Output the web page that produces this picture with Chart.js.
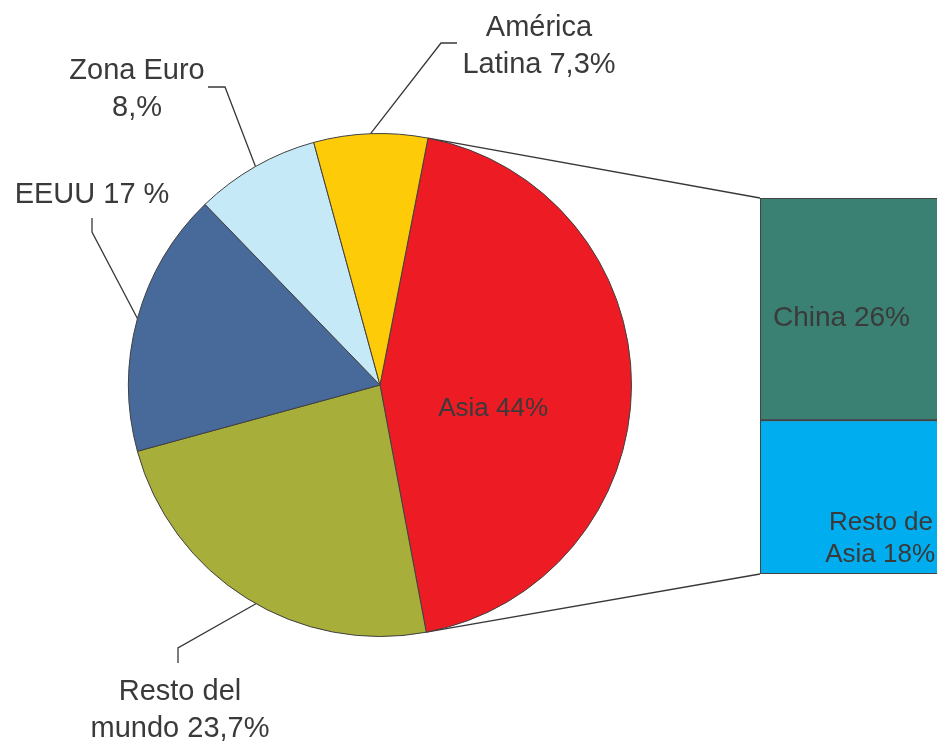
<!DOCTYPE html>
<html>
<head>
<meta charset="utf-8">
<script src="https://cdn.jsdelivr.net/npm/chart.js@4.4.1/dist/chart.umd.min.js"></script>
<style>
html, body { margin: 0; padding: 0; background: #fff; overflow: hidden; }
#wrap { position: relative; width: 937px; height: 741px; overflow: hidden; }
canvas { position: absolute; left: 0; top: 0; }
</style>
</head>
<body>
<div id="wrap">
  <canvas id="barChart" width="1000" height="741"></canvas>
  <canvas id="pieChart" width="937" height="741"></canvas>
</div>
<script>
// Pie: world shares
const categories = ['Asia', 'Resto del mundo', 'EEUU', 'Zona Euro', 'América Latina'];
const shares = [44, 23.7, 17, 8, 7.3];
const sliceLabels = [['Asia 44%'], ['Resto del', 'mundo 23,7%'], ['EEUU 17 %'], ['Zona Euro', '8,%'], ['América', 'Latina 7,3%']];
const sliceColors = ['#ed1c24', '#a8ae3a', '#476a9b', '#c6e9f8', '#fdcb07'];

// Bar: breakdown of Asia (bottom to top)
const asiaParts = ['Resto de Asia', 'China'];
const asiaShares = [18, 26];
const asiaLabels = [['Resto de', 'Asia 18%'], ['China 26%']];
const asiaColors = ['#00adef', '#3a8073'];

const textColor = '#3a3a3a';
const lineColor = '#383838';
Chart.defaults.font.family = '"Liberation Sans", Arial, sans-serif';

// where each pie label sits (leader angle shift in degrees, elbow, end, first baseline)
const labelLayout = [
  { inside: 0.45, dy: 31 },
  { shift: -2.5, elbow: [178, 648], end: [178, 663], text: [180, 700] },
  { shift: 0, elbow: [92, 232], end: [92, 218], text: [92, 203] },
  { shift: 0, elbow: [225, 87], end: [208, 87], text: [137, 79] },
  { shift: 0, elbow: [441, 43], end: [457, 43], text: [539, 36] }
];

const pieLabels = {
  id: 'pieLabels',
  afterDatasetsDraw(chart) {
    const ctx = chart.ctx;
    const arcs = chart.getDatasetMeta(0).data;
    ctx.save();
    ctx.fillStyle = textColor;
    ctx.strokeStyle = lineColor;
    ctx.lineWidth = 1.3;
    ctx.textAlign = 'center';
    ctx.textBaseline = 'alphabetic';
    arcs.forEach((arc, i) => {
      const lay = labelLayout[i];
      let mid = (arc.startAngle + arc.endAngle) / 2;
      if (lay.inside) {
        const r = arc.outerRadius * lay.inside;
        ctx.font = '26px "Liberation Sans"';
        ctx.fillText(sliceLabels[i][0], arc.x + r * Math.cos(mid), arc.y + r * Math.sin(mid) + lay.dy);
        return;
      }
      mid += lay.shift * Math.PI / 180;
      const px = arc.x + arc.outerRadius * Math.cos(mid);
      const py = arc.y + arc.outerRadius * Math.sin(mid);
      ctx.beginPath();
      ctx.moveTo(px, py);
      ctx.lineTo(lay.elbow[0], lay.elbow[1]);
      ctx.lineTo(lay.end[0], lay.end[1]);
      ctx.stroke();
      ctx.font = '29px "Liberation Sans"';
      sliceLabels[i].forEach((t, k) => ctx.fillText(t, lay.text[0], lay.text[1] + k * 37));
    });
    ctx.restore();
  }
};

const pieChart = new Chart(document.getElementById('pieChart'), {
  type: 'pie',
  data: {
    labels: categories,
    datasets: [{
      data: shares,
      backgroundColor: sliceColors,
      borderColor: '#404040',
      borderWidth: 1,
      hoverOffset: 0
    }]
  },
  options: {
    responsive: false,
    animation: false,
    events: [],
    rotation: 11,
    layout: { padding: { left: 128, top: 133, right: 305, bottom: 104 } },
    plugins: { legend: { display: false }, tooltip: { enabled: false } }
  },
  plugins: [pieLabels]
});

const barExtras = {
  id: 'barExtras',
  afterDatasetsDraw(chart) {
    const ctx = chart.ctx;
    const asia = pieChart.getDatasetMeta(0).data[0];
    const low = chart.getDatasetMeta(0).data[0];
    const high = chart.getDatasetMeta(1).data[0];
    const left = high.x - high.width / 2;
    ctx.save();
    // connectors from the Asia slice to the bar
    ctx.strokeStyle = lineColor;
    ctx.lineWidth = 1.3;
    ctx.beginPath();
    ctx.moveTo(asia.x + asia.outerRadius * Math.cos(asia.startAngle), asia.y + asia.outerRadius * Math.sin(asia.startAngle));
    ctx.lineTo(left, high.y);
    ctx.moveTo(asia.x + asia.outerRadius * Math.cos(asia.endAngle), asia.y + asia.outerRadius * Math.sin(asia.endAngle));
    ctx.lineTo(left, low.base);
    ctx.stroke();
    // segment labels
    ctx.fillStyle = textColor;
    ctx.textBaseline = 'alphabetic';
    ctx.font = '28px "Liberation Sans"';
    ctx.textAlign = 'left';
    ctx.fillText(asiaLabels[1][0], left + 13, (high.y + high.base) / 2 + 17);
    ctx.font = '26px "Liberation Sans"';
    ctx.textAlign = 'right';
    ctx.fillText(asiaLabels[0][0], left + 173, low.base - 44);
    ctx.fillText(asiaLabels[0][1], left + 175, low.base - 12);
    ctx.restore();
  }
};

new Chart(document.getElementById('barChart'), {
  type: 'bar',
  data: {
    labels: ['Asia'],
    datasets: asiaParts.map((name, i) => ({
      label: name,
      data: [asiaShares[i]],
      backgroundColor: asiaColors[i],
      borderColor: '#444',
      borderWidth: 1.3,
      borderSkipped: false,
      barPercentage: 1,
      categoryPercentage: 1
    }))
  },
  options: {
    responsive: false,
    animation: false,
    events: [],
    layout: { padding: { left: 760, top: 198, right: 40, bottom: 167 } },
    scales: {
      x: { stacked: true, display: false },
      y: { stacked: true, display: false, min: 0, max: 44 }
    },
    plugins: { legend: { display: false }, tooltip: { enabled: false } }
  },
  plugins: [barExtras]
});
</script>
</body>
</html>
